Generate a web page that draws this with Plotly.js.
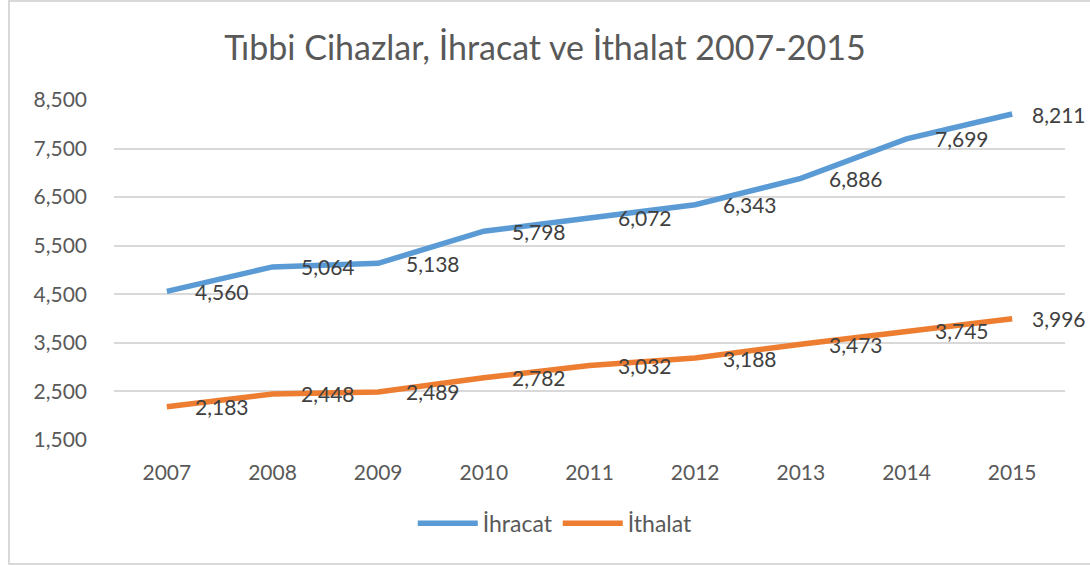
<!DOCTYPE html>
<html><head><meta charset="utf-8">
<script src="https://cdn.plot.ly/plotly-3.0.1.min.js"></script>
<style>html,body{margin:0;padding:0;background:#fff;overflow:hidden}#c{width:1090px;height:565px;position:relative}
#frame{position:absolute;left:8px;top:0px;width:1100px;height:561px;border-left:2px solid #d9d9d9;border-top:2px solid #d9d9d9;border-bottom:2px solid #d9d9d9;pointer-events:none}</style>
</head><body><div id="c"></div><div id="frame"></div>
<script>
var years = ['2007','2008','2009','2010','2011','2012','2013','2014','2015'];
var ihracat = [4560,5064,5138,5798,6072,6343,6886,7699,8211];
var ithalat = [2183,2448,2489,2782,3032,3188,3473,3745,3996];
var yTicks = [1500,2500,3500,4500,5500,6500,7500,8500];
function fmt(v){return v.toLocaleString('en-US');}
var font = 'Lato, sans-serif';
var traces = [
 {x:years,y:ihracat,name:'İhracat',type:'scatter',mode:'lines',line:{color:'#5B9BD5',width:5.5},hoverinfo:'x+y'},
 {x:years,y:ithalat,name:'İthalat',type:'scatter',mode:'lines',line:{color:'#ED7D31',width:5.5},hoverinfo:'x+y'}
];
var annotations = [];
[ihracat, ithalat].forEach(function(series){
  series.forEach(function(v,i){
    // category axis: annotation x is the category's serial index
    annotations.push({x:i,y:v,xref:'x',yref:'y',text:fmt(v),showarrow:false,
      xanchor:'left',yanchor:'middle',xshift:(i===series.length-1?18:26),yshift:0,
      font:{size:21,color:'#404040',family:font}});
  });
});
var layout = {
 width:1090,height:565,paper_bgcolor:'rgba(0,0,0,0)',plot_bgcolor:'rgba(0,0,0,0)',
 margin:{l:114,r:25,t:100,b:125},
 font:{family:font,color:'#595959'},
 title:{text:'Tıbbi Cihazlar, İhracat ve İthalat 2007-2015',font:{size:34,color:'#595959',family:font},x:0.5,xanchor:'center',y:0.915,yanchor:'middle'},
 xaxis:{type:'category',range:[-0.5,8.5],showgrid:false,zeroline:false,showline:false,ticks:'',tickfont:{size:21,color:'#595959',family:font},ticklabelstandoff:18,fixedrange:true},
 yaxis:{range:[1500,8500],tickvals:yTicks,ticktext:yTicks.map(fmt),showgrid:true,gridcolor:'#d9d9d9',gridwidth:1.5,zeroline:false,showline:false,ticks:'',tickfont:{size:21,color:'#595959',family:font},ticklabelstandoff:26,fixedrange:true},
 showlegend:true,
 legend:{orientation:'h',x:0.464,xanchor:'center',y:-0.245,yanchor:'middle',font:{size:23,color:'#595959',family:font},itemwidth:60,bgcolor:'rgba(0,0,0,0)'},
 annotations:annotations
};
Plotly.newPlot('c',traces,layout,{displayModeBar:false});
</script></body></html>
